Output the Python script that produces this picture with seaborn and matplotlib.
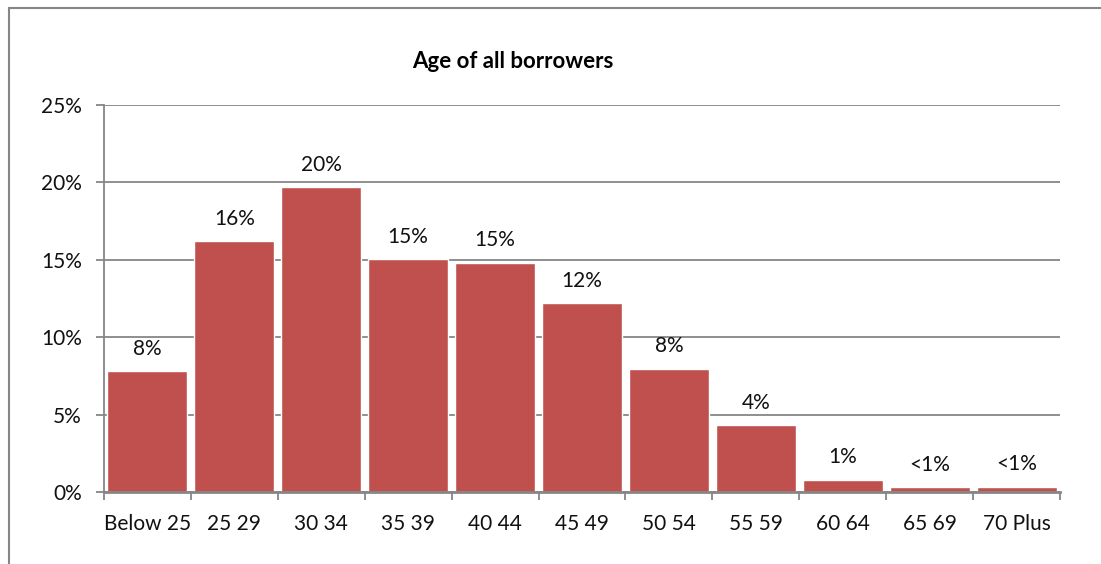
import matplotlib
matplotlib.use("Agg")
import matplotlib.pyplot as plt
from matplotlib.lines import Line2D
from matplotlib.ticker import FixedLocator, FuncFormatter
import seaborn as sns
import pandas as pd

age_bands = ["Below 25", "25 29", "30 34", "35 39", "40 44", "45 49",
             "50 54", "55 59", "60 64", "65 69", "70 Plus"]
share_pct = [7.8, 16.2, 19.7, 15.05, 14.8, 12.2, 7.95, 4.3, 0.8, 0.3, 0.35]
value_labels = ["8%", "16%", "20%", "15%", "15%", "12%", "8%", "4%", "1%", "<1%", "<1%"]
y_ticks = [0, 5, 10, 15, 20, 25]

sns.set_theme(style="white")
plt.rcParams["font.family"] = ["Lato", "DejaVu Sans"]

df = pd.DataFrame({"band": age_bands, "share": share_pct})

fig = plt.figure(figsize=(11.01, 5.64), dpi=100)
ax = fig.add_axes([104 / 1101, 1 - 492 / 564, (1060 - 104) / 1101, (492 - 105) / 564])

grid_col = "#868686"
bar_col = "#C0504D"
text_col = "#111111"

sns.barplot(data=df, x="band", y="share", color=bar_col, saturation=1,
            width=0.92, ax=ax, zorder=3)

ax.set_xlim(-0.5, len(age_bands) - 0.5)
ax.set_ylim(0, 25)
ax.yaxis.set_major_locator(FixedLocator(y_ticks))
ax.yaxis.set_major_formatter(FuncFormatter(lambda v, _: f"{v:.0f}%"))
ax.grid(axis="y", color=grid_col, linewidth=1.3, zorder=0)
ax.set_axisbelow(True)

for side in ["top", "right"]:
    ax.spines[side].set_visible(False)
ax.spines["left"].set_color(grid_col)
ax.spines["left"].set_linewidth(1.3)
ax.spines["bottom"].set_color(grid_col)
ax.spines["bottom"].set_linewidth(2)
ax.spines["bottom"].set_zorder(4)

ax.tick_params(axis="y", which="major", left=True, length=6, width=1.3,
               color=grid_col, labelsize=15, labelcolor=text_col, pad=10)
ax.tick_params(axis="x", which="major", bottom=False, labelsize=15,
               labelcolor=text_col, pad=10)
ax.xaxis.set_minor_locator(FixedLocator([i - 0.5 for i in range(len(age_bands) + 1)]))
ax.tick_params(axis="x", which="minor", bottom=True, length=6, width=1.3,
               color=grid_col)
ax.set_xlabel("")
ax.set_ylabel("")

for i, (v, lab) in enumerate(zip(share_pct, value_labels)):
    ax.annotate(lab, (i, v), xytext=(0, 9), textcoords="offset points",
                ha="center", va="bottom", fontsize=15, color=text_col)

fig.text(513 / 1101, 1 - 62 / 564, "Age of all borrowers", ha="center",
         va="center", fontsize=16, fontweight="bold", color="#000000")

# outer chart frame (left and top edges)
fig.add_artist(Line2D([9 / 1101, 9 / 1101], [0, 1 - 8 / 564],
                      transform=fig.transFigure, color=grid_col, linewidth=1.5))
fig.add_artist(Line2D([9 / 1101, 1], [1 - 8 / 564, 1 - 8 / 564],
                      transform=fig.transFigure, color=grid_col, linewidth=1.5))

fig.savefig("out.png", dpi=100)
